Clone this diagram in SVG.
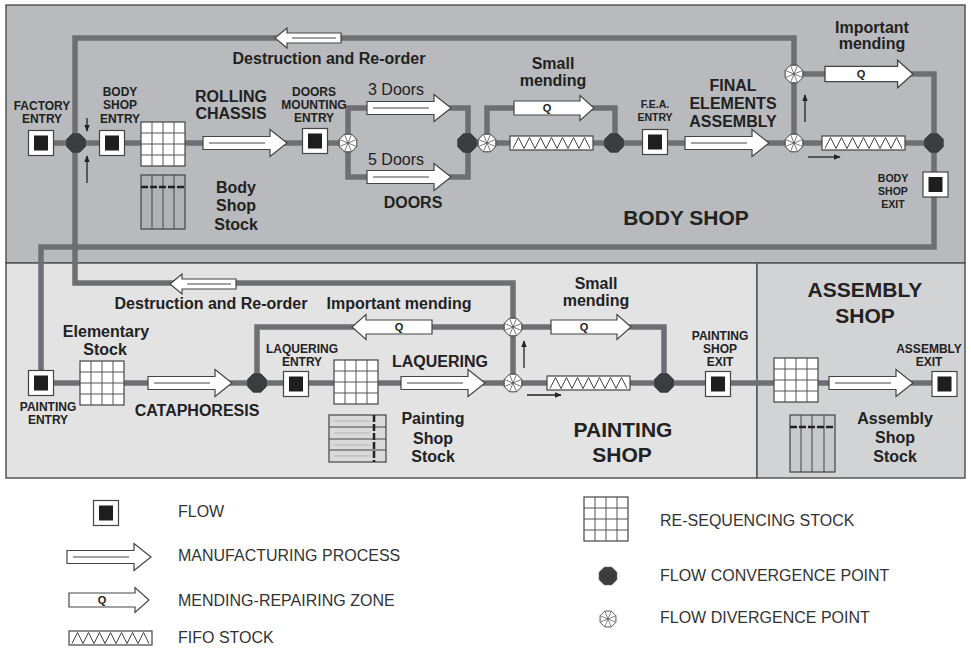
<svg xmlns="http://www.w3.org/2000/svg" xmlns:xlink="http://www.w3.org/1999/xlink" width="971" height="651" viewBox="0 0 971 651">
<style>
.t{font-family:"Liberation Sans",Arial,sans-serif;font-weight:bold;fill:#222;text-anchor:middle}
.xs{font-size:10.5px}
.s{font-size:12px}
.m{font-size:16px}
.l{font-size:21px}
.r{font-weight:normal;text-anchor:start}
.leg{font-family:"Liberation Sans",Arial,sans-serif;font-size:16px;fill:#333;text-anchor:start}
.q{font-family:"Liberation Sans",Arial,sans-serif;font-weight:bold;font-size:11px;fill:#222;text-anchor:middle}
.ln{fill:none;stroke:#6e6f72;stroke-width:5.5}
.ol{stroke:#444;stroke-width:1.2}
.thin{fill:none;stroke:#222;stroke-width:1.3}
.panel{stroke:#555;stroke-width:1.5}
</style>
<defs>
<marker id="ah" viewBox="0 0 10 10" refX="9" refY="5" markerWidth="7" markerHeight="7" orient="auto" markerUnits="userSpaceOnUse"><path d="M0,1L10,5L0,9Z" fill="#222"/></marker>
<g id="flow"><rect x="-12.5" y="-12.5" width="25" height="25" fill="#fff" class="ol"/><rect x="-7" y="-7.5" width="14" height="15" fill="#1e1e1e"/></g>
<g id="grid"><rect x="0" y="0" width="44" height="44" fill="#fff" class="ol"/><path d="M11,0V44M22,0V44M33,0V44M0,11H44M0,22H44M0,33H44" stroke="#555" stroke-width="1"/></g>
<g id="proc"><path d="M0,-6.5H67V-13.5L84,0L67,13.5V6.5H0Z" fill="#fff" class="ol"/><path d="M6,0H62" stroke="#444" stroke-width="1"/></g>
<g id="dest"><path d="M0,0L12,-10V-5H66V5H12V10Z" fill="#fff" class="ol"/><path d="M17,0H61" stroke="#444" stroke-width="1"/></g>
<path id="mend" d="M0,-7H66V-12.5L80,0L66,12.5V7H0Z" fill="#fff" stroke="#444" stroke-width="1.2"/>
<g id="fifo"><rect x="0" y="0" width="83" height="14" fill="#fff" class="ol"/><polyline points="3,12.5 8.5,1.5 14,12.5 19.5,1.5 25,12.5 30.5,1.5 36,12.5 41.5,1.5 47,12.5 52.5,1.5 58,12.5 63.5,1.5 69,12.5 74.5,1.5 80,12.5" fill="none" stroke="#444" stroke-width="1"/></g>
<polygon id="conv" points="9.24,3.83 3.83,9.24 -3.83,9.24 -9.24,3.83 -9.24,-3.83 -3.83,-9.24 3.83,-9.24 9.24,-3.83" fill="#3c3d40" stroke="#333" stroke-width="0.8"/>
<g id="div"><polygon points="8.8,3.6 3.6,8.8 -3.6,8.8 -8.8,3.6 -8.8,-3.6 -3.6,-8.8 3.6,-8.8 8.8,-3.6" fill="#fff" stroke="#444" stroke-width="1"/><path d="M8.8,3.6L-8.8,-3.6M3.6,8.8L-3.6,-8.8M-3.6,8.8L3.6,-8.8M-8.8,3.6L8.8,-3.6" stroke="#555" stroke-width="0.8"/></g>
</defs>

<g id="panels">
<rect id="body-shop-panel" x="6" y="5" width="959" height="258" fill="#b8babd" class="panel"/>
<rect id="painting-shop-panel" x="6" y="263" width="751" height="215" fill="#e3e3e4" class="panel"/>
<rect id="assembly-shop-panel" x="757" y="263" width="208" height="215" fill="#d2d3d5" class="panel"/>
</g>

<g id="connectors">
<path class="ln" d="M41,143H348"/>
<path class="ln" d="M467,143H934"/>
<path class="ln" d="M348,143V108H468V143"/>
<path class="ln" d="M348,143V177H468V143"/>
<path class="ln" d="M487,143V108H615V143"/>
<path class="ln" d="M794,143V74H934V143"/>
<path class="ln" d="M794,74V38H75V283H513V383"/>
<path class="ln" d="M934,143V247H41V383"/>
<path class="ln" d="M41,383H944"/>
<path class="ln" d="M257,383V327H513"/>
<path class="ln" d="M513,327H664V383"/>
<path class="thin" d="M87,118V131" marker-end="url(#ah)"/>
<path class="thin" d="M87,183V156" marker-end="url(#ah)"/>
<path class="thin" d="M805,122V95" marker-end="url(#ah)"/>
<path class="thin" d="M808,157H840" marker-end="url(#ah)"/>
<path class="thin" d="M524,368V341" marker-end="url(#ah)"/>
<path class="thin" d="M527,395H561" marker-end="url(#ah)"/>
</g>

<g id="destruction-top"><use xlink:href="#dest" href="#dest" transform="translate(275,38)"/><text class="t m" x="329" y="64">Destruction and Re-order</text></g>
<g id="factory-entry"><use xlink:href="#flow" href="#flow" transform="translate(41,143)"/><text class="t s" x="42" y="110">FACTORY</text><text class="t s" x="42" y="123">ENTRY</text></g>
<g id="conv-body-entry"><use xlink:href="#conv" href="#conv" transform="translate(76,143)"/></g>
<g id="body-shop-entry"><use xlink:href="#flow" href="#flow" transform="translate(112,143)"/><text class="t s" x="120" y="96">BODY</text><text class="t s" x="120" y="109">SHOP</text><text class="t s" x="120" y="122.5">ENTRY</text></g>
<g id="body-shop-stock"><use xlink:href="#grid" href="#grid" transform="translate(141,122)"/>
<rect x="141" y="175" width="44" height="54" fill="#b0b2b5" class="ol"/><path d="M152,175V229M163,175V229M174,175V229" stroke="#444" stroke-width="1"/><path d="M141,187H185" stroke="#222" stroke-width="2.5" stroke-dasharray="7,2"/>
<text class="t m" x="236" y="193">Body</text><text class="t m" x="236" y="211">Shop</text><text class="t m" x="236" y="230">Stock</text></g>
<g id="rolling-chassis"><use xlink:href="#proc" href="#proc" transform="translate(203,143)"/><text class="t m" x="231" y="102">ROLLING</text><text class="t m" x="231" y="119">CHASSIS</text></g>
<g id="doors-mounting-entry"><use xlink:href="#flow" href="#flow" transform="translate(315,141)"/><text class="t s" x="314" y="96">DOORS</text><text class="t s" x="314" y="109">MOUNTING</text><text class="t s" x="314" y="122">ENTRY</text></g>
<g id="div-doors"><use xlink:href="#div" href="#div" transform="translate(348,143)"/></g>
<g id="doors-3"><use xlink:href="#proc" href="#proc" transform="translate(367,108)"/><text class="t m r" x="368" y="95">3 Doors</text></g>
<g id="doors-5"><use xlink:href="#proc" href="#proc" transform="translate(367,177)"/><text class="t m r" x="368" y="165">5 Doors</text><text class="t m" x="413" y="208">DOORS</text></g>
<g id="conv-doors"><use xlink:href="#conv" href="#conv" transform="translate(467,143)"/></g>
<g id="div-small-mending"><use xlink:href="#div" href="#div" transform="translate(487,143)"/></g>
<g id="small-mending-top"><use xlink:href="#mend" href="#mend" transform="translate(514,108)"/><text class="q" x="547" y="112">Q</text><text class="t m" x="553" y="69">Small</text><text class="t m" x="553" y="86">mending</text></g>
<g id="fifo-top-1"><use xlink:href="#fifo" href="#fifo" transform="translate(510,136)"/></g>
<g id="conv-small-mending"><use xlink:href="#conv" href="#conv" transform="translate(614,143)"/></g>
<g id="fea-entry"><use xlink:href="#flow" href="#flow" transform="translate(655,142)"/><text class="t xs" x="655" y="108">F.E.A.</text><text class="t xs" x="655" y="121">ENTRY</text></g>
<g id="final-elements-assembly"><use xlink:href="#proc" href="#proc" transform="translate(685,143)"/><text class="t m" x="733" y="91">FINAL</text><text class="t m" x="733" y="109">ELEMENTS</text><text class="t m" x="733" y="127">ASSEMBLY</text></g>
<g id="div-important-top"><use xlink:href="#div" href="#div" transform="translate(794,74)"/></g>
<g id="div-fea"><use xlink:href="#div" href="#div" transform="translate(794,143)"/></g>
<g id="important-mending-top"><use xlink:href="#mend" href="#mend" transform="translate(825,74) scale(1.1)"/><text class="q" x="861" y="78">Q</text><text class="t m" x="872" y="33">Important</text><text class="t m" x="872" y="49">mending</text></g>
<g id="fifo-top-2"><use xlink:href="#fifo" href="#fifo" transform="translate(822,136)"/></g>
<g id="conv-body-exit"><use xlink:href="#conv" href="#conv" transform="translate(934,143)"/></g>
<g id="body-shop-exit"><use xlink:href="#flow" href="#flow" transform="translate(935.5,184.5)"/><text class="t xs" x="893" y="182">BODY</text><text class="t xs" x="893" y="195">SHOP</text><text class="t xs" x="893" y="208">EXIT</text></g>
<g id="body-shop-label"><text class="t l" x="686" y="225">BODY SHOP</text></g>

<g id="destruction-bottom"><use xlink:href="#dest" href="#dest" transform="translate(170,284)"/><text class="t m" x="211" y="309">Destruction and Re-order</text></g>
<g id="painting-entry"><use xlink:href="#flow" href="#flow" transform="translate(41,383)"/><text class="t s" x="48" y="411">PAINTING</text><text class="t s" x="48" y="424">ENTRY</text></g>
<g id="elementary-stock"><use xlink:href="#grid" href="#grid" transform="translate(80,361)"/><text class="t m" x="106" y="337">Elementary</text><text class="t m" x="105" y="355">Stock</text></g>
<g id="cataphoresis"><use xlink:href="#proc" href="#proc" transform="translate(148,383)"/><text class="t m" x="197" y="416">CATAPHORESIS</text></g>
<g id="conv-laquering"><use xlink:href="#conv" href="#conv" transform="translate(257,383)"/></g>
<g id="laquering-entry"><use xlink:href="#flow" href="#flow" transform="translate(296,384)"/><text class="t s" x="302" y="353">LAQUERING</text><text class="t s" x="302" y="366">ENTRY</text></g>
<g id="painting-shop-stock"><use xlink:href="#grid" href="#grid" transform="translate(334,360)"/>
<rect x="329" y="415" width="57" height="47" fill="#dadadb" class="ol"/><path d="M329,427H386M329,439H386M329,450H386" stroke="#444" stroke-width="1"/><path d="M334,421H370M334,433H370M334,445H370M334,456H370" stroke="#aaa" stroke-width="0.8"/><path d="M374,415V462" stroke="#222" stroke-width="2.5" stroke-dasharray="7,2"/>
<text class="t m" x="433" y="424">Painting</text><text class="t m" x="433" y="444">Shop</text><text class="t m" x="433" y="462">Stock</text></g>
<g id="laquering"><use xlink:href="#proc" href="#proc" transform="translate(401,383)"/><text class="t m" x="440" y="367">LAQUERING</text></g>
<g id="important-mending-bottom"><use xlink:href="#mend" href="#mend" transform="translate(432,327) scale(-1,1)"/><text class="q" x="399" y="331">Q</text><text class="t m" x="399" y="309">Important mending</text></g>
<g id="div-important-bottom"><use xlink:href="#div" href="#div" transform="translate(513,327)"/></g>
<g id="div-laquering"><use xlink:href="#div" href="#div" transform="translate(513,383)"/></g>
<g id="small-mending-bottom"><use xlink:href="#mend" href="#mend" transform="translate(551,327)"/><text class="q" x="584" y="331">Q</text><text class="t m" x="596" y="289">Small</text><text class="t m" x="596" y="306">mending</text></g>
<g id="fifo-bottom"><use xlink:href="#fifo" href="#fifo" transform="translate(547,376)"/></g>
<g id="conv-painting-exit"><use xlink:href="#conv" href="#conv" transform="translate(664,383)"/></g>
<g id="painting-shop-exit"><use xlink:href="#flow" href="#flow" transform="translate(718,384)"/><text class="t s" x="720" y="340">PAINTING</text><text class="t s" x="720" y="353">SHOP</text><text class="t s" x="720" y="366">EXIT</text></g>
<g id="painting-shop-label"><text class="t l" x="623" y="437">PAINTING</text><text class="t l" x="622" y="462">SHOP</text></g>

<g id="assembly-shop-label"><text class="t l" x="865" y="297">ASSEMBLY</text><text class="t l" x="865" y="323">SHOP</text></g>
<g id="assembly-shop-stock"><use xlink:href="#grid" href="#grid" transform="translate(774,358)"/>
<rect x="790" y="415" width="45" height="57" fill="#c8c9cb" class="ol"/><path d="M801,415V472M812,415V472M824,415V472" stroke="#444" stroke-width="1"/><path d="M790,427H835" stroke="#222" stroke-width="2.5" stroke-dasharray="7,2"/>
<text class="t m" x="895" y="424">Assembly</text><text class="t m" x="895" y="443">Shop</text><text class="t m" x="895" y="462">Stock</text></g>
<g id="assembly-process"><use xlink:href="#proc" href="#proc" transform="translate(829,383)"/></g>
<g id="assembly-exit"><use xlink:href="#flow" href="#flow" transform="translate(944.5,384)"/><text class="t s" x="929" y="353">ASSEMBLY</text><text class="t s" x="929" y="366">EXIT</text></g>

<g id="legend">
<g id="legend-flow"><use xlink:href="#flow" href="#flow" transform="translate(106,513)"/><text class="leg" x="178" y="517">FLOW</text></g>
<g id="legend-process"><use xlink:href="#proc" href="#proc" transform="translate(67,557)"/><text class="leg" x="178" y="561">MANUFACTURING PROCESS</text></g>
<g id="legend-mending"><use xlink:href="#mend" href="#mend" transform="translate(69,600)"/><text class="q" x="102" y="604">Q</text><text class="leg" x="178" y="606">MENDING-REPAIRING ZONE</text></g>
<g id="legend-fifo"><use xlink:href="#fifo" href="#fifo" transform="translate(69,631)"/><text class="leg" x="178" y="643">FIFO STOCK</text></g>
<g id="legend-resequencing"><use xlink:href="#grid" href="#grid" transform="translate(584,497)"/><text class="leg" x="660" y="526">RE-SEQUENCING STOCK</text></g>
<g id="legend-convergence"><use xlink:href="#conv" href="#conv" transform="translate(608,576) scale(0.95)"/><text class="leg" x="660" y="581">FLOW CONVERGENCE POINT</text></g>
<g id="legend-divergence"><use xlink:href="#div" href="#div" transform="translate(608,619) scale(0.9)"/><text class="leg" x="660" y="623">FLOW DIVERGENCE POINT</text></g>
</g>
</svg>
